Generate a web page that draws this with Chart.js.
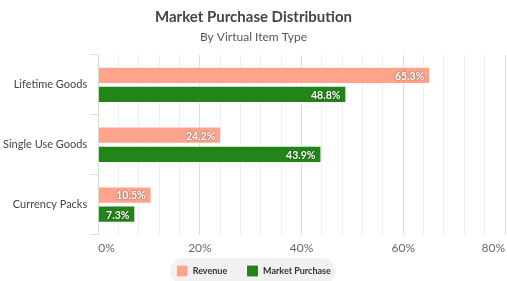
<!DOCTYPE html>
<html>
<head>
<meta charset="utf-8">
<script src="https://cdn.jsdelivr.net/npm/chart.js@4/dist/chart.umd.min.js"></script>
<style>
  html, body { margin: 0; padding: 0; background: #fff; }
  #wrap { width: 507px; height: 281px; }
</style>
</head>
<body>
<div id="wrap"><canvas id="chart"></canvas></div>
<script>
const categories = ['Lifetime Goods', 'Single Use Goods', 'Currency Packs'];
const revenue = [65.3, 24.2, 10.5];
const marketPurchase = [48.8, 43.9, 7.3];
const xTicks = [0, 20, 40, 60, 80];

const FONT = 'Lato, "Open Sans", sans-serif';

// Value labels drawn inside the end of each bar.
const barLabels = {
    id: 'barLabels',
    afterDatasetsDraw(chart) {
        const ctx = chart.ctx;
        ctx.save();
        ctx.font = `bold 10.5px ${FONT}`;
        ctx.textAlign = 'right';
        ctx.textBaseline = 'middle';
        ctx.fillStyle = '#fff';
        ctx.shadowColor = 'rgba(0,0,0,0.55)';
        ctx.shadowBlur = 2;
        chart.data.datasets.forEach((ds, i) => {
            chart.getDatasetMeta(i).data.forEach((bar, j) => {
                ctx.fillText(ds.data[j].toFixed(1) + '%', bar.x - 6, bar.y + 1);
            });
        });
        ctx.restore();
    }
};

// Rounded grey pill behind the legend.
const legendPill = {
    id: 'legendPill',
    beforeDraw(chart) {
        const lg = chart.legend;
        if (!lg) return;
        const items = lg.legendHitBoxes;
        if (!items.length) return;
        const left = Math.min(...items.map(b => b.left)) - 6;
        const right = Math.max(...items.map(b => b.left + b.width)) + 5;
        const top = items[0].top - 7;
        const h = 26;
        const ctx = chart.ctx;
        ctx.save();
        ctx.fillStyle = '#f1f1f1';
        ctx.beginPath();
        ctx.roundRect(left, top, right - left, h, 13);
        ctx.fill();
        ctx.restore();
    }
};

const defaultLegendLabels = Chart.defaults.plugins.legend.labels.generateLabels;

new Chart(document.getElementById('chart'), {
    type: 'bar',
    data: {
        labels: categories,
        datasets: [
            { label: 'Revenue', data: revenue, backgroundColor: '#ffa38d', borderColor: '#fff', borderWidth: 1 },
            { label: 'Market Purchase', data: marketPurchase, backgroundColor: '#23841a', borderColor: '#fff', borderWidth: 1 }
        ]
    },
    options: {
        indexAxis: 'y',
        responsive: true, maintainAspectRatio: false, animation: false,
        categoryPercentage: 0.64,
        barPercentage: 0.9,
        layout: { padding: { left: 0, right: 0, top: 0, bottom: -6 } },
        plugins: {
            title: { display: true, text: 'Market Purchase Distribution', color: '#444', font: { family: FONT, size: 15, weight: 'bold' }, padding: { top: 8, bottom: 4 } },
            subtitle: { display: true, text: 'By Virtual Item Type', color: '#555', font: { family: FONT, size: 12 }, padding: { bottom: 10.5 } },
            legend: {
                position: 'bottom',
                labels: {
                    color: '#333', boxWidth: 12, boxHeight: 12, padding: 4,
                    font: { family: FONT, size: 9, weight: 'bold' },
                    // a little extra room between the two entries
                    generateLabels: chart => defaultLegendLabels(chart).map((l, i, arr) =>
                        i < arr.length - 1 ? { ...l, text: l.text + '       ' } : l)
                }
            },
            tooltip: { enabled: false }
        },
        scales: {
            x: {
                min: 0, max: 80,
                afterFit: s => { s.paddingRight = 2; },
                ticks: {
                    stepSize: 4, autoSkip: false, maxRotation: 0, minRotation: 0,
                    color: '#666', align: 'inner', padding: 6,
                    font: { family: FONT, size: 12 },
                    callback: v => xTicks.includes(v) ? v + '%' : ''
                },
                grid: { drawTicks: false, color: c => (c.tick && c.tick.value % 20 === 0) ? '#dcdcdc' : '#efefef' },
                border: { display: false }
            },
            y: {
                ticks: { color: '#444', font: { family: FONT, size: 11 }, padding: 3 },
                grid: { display: true, drawOnChartArea: false, color: '#d3e3d3', tickLength: 8 },
                border: { display: true, color: '#d3e3d3' }
            }
        }
    },
    plugins: [barLabels, legendPill]
});
</script>
</body>
</html>
